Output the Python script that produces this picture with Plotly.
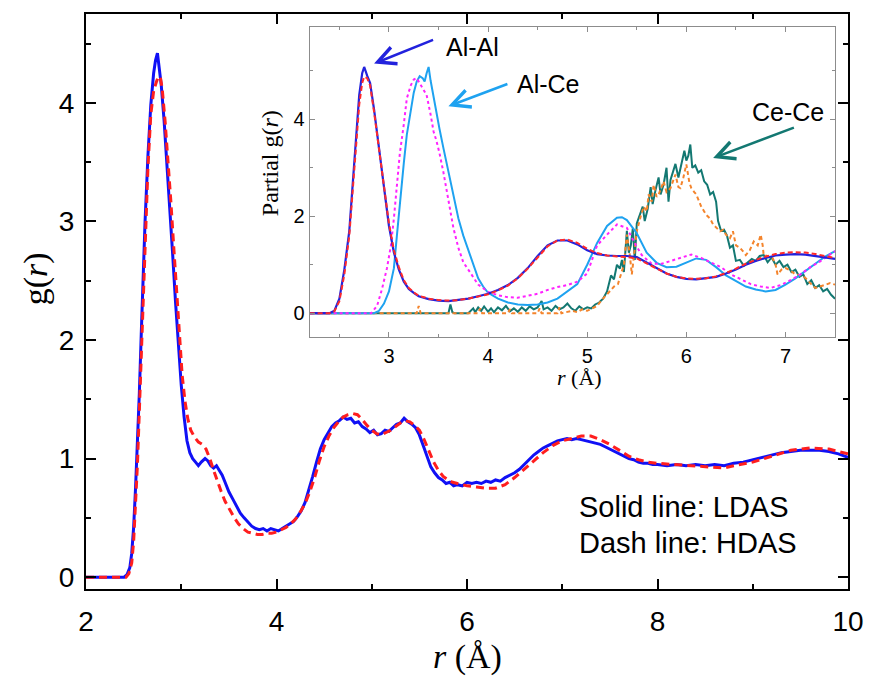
import plotly.graph_objects as go

# ---------------- main panel: total g(r) ----------------
r_ldas = [2.00, 2.40, 2.43, 2.46, 2.48, 2.50, 2.52, 2.54, 2.56, 2.58,
          2.60, 2.62, 2.65, 2.68, 2.71, 2.73, 2.75, 2.77, 2.79, 2.82,
          2.85, 2.88, 2.91, 2.94, 2.97, 3.00, 3.03, 3.06, 3.09, 3.12,
          3.15, 3.18, 3.21, 3.25, 3.28, 3.31, 3.34, 3.37, 3.40, 3.43,
          3.46, 3.50, 3.54, 3.58, 3.62, 3.66, 3.70, 3.74, 3.78, 3.82,
          3.86, 3.90, 3.94, 3.98, 4.02, 4.06, 4.10, 4.14, 4.18, 4.22,
          4.26, 4.30, 4.34, 4.38, 4.42, 4.46, 4.50, 4.54, 4.58, 4.62,
          4.66, 4.70, 4.74, 4.78, 4.82, 4.86, 4.90, 4.94, 4.98, 5.02,
          5.06, 5.10, 5.14, 5.18, 5.22, 5.26, 5.30, 5.34, 5.38, 5.42,
          5.46, 5.50, 5.54, 5.58, 5.62, 5.66, 5.70, 5.74, 5.78, 5.82,
          5.86, 5.90, 5.95, 6.00, 6.05, 6.10, 6.15, 6.20, 6.25, 6.30,
          6.35, 6.40, 6.45, 6.50, 6.55, 6.60, 6.65, 6.70, 6.75, 6.80,
          6.85, 6.90, 6.95, 7.00, 7.05, 7.10, 7.15, 7.20, 7.25, 7.30,
          7.35, 7.40, 7.45, 7.50, 7.55, 7.60, 7.65, 7.70, 7.75, 7.80,
          7.85, 7.90, 7.95, 8.00, 8.10, 8.20, 8.30, 8.40, 8.50, 8.60,
          8.70, 8.80, 8.90, 9.00, 9.10, 9.20, 9.30, 9.40, 9.50, 9.60,
          9.70, 9.80, 9.90, 10.00]
g_ldas = [0.00, 0.00, 0.02, 0.08, 0.20, 0.42, 0.75, 1.10, 1.55, 2.05,
          2.55, 3.00, 3.55, 3.98, 4.25, 4.36, 4.42, 4.30, 4.15, 3.85,
          3.50, 3.12, 2.72, 2.32, 1.95, 1.62, 1.35, 1.15, 1.05, 1.00,
          0.97, 0.94, 0.97, 1.00, 0.98, 0.94, 0.92, 0.94, 0.90, 0.86,
          0.80, 0.72, 0.66, 0.60, 0.54, 0.50, 0.46, 0.43, 0.41, 0.40,
          0.41, 0.39, 0.41, 0.40, 0.39, 0.41, 0.43, 0.45, 0.47, 0.51,
          0.56, 0.63, 0.73, 0.85, 0.97, 1.08, 1.16, 1.22, 1.27, 1.30,
          1.32, 1.35, 1.33, 1.34, 1.30, 1.31, 1.27, 1.25, 1.22, 1.24,
          1.20, 1.21, 1.24, 1.23, 1.26, 1.29, 1.30, 1.34, 1.31, 1.29,
          1.26, 1.20, 1.11, 1.01, 0.93, 0.88, 0.84, 0.82, 0.79, 0.80,
          0.77, 0.78, 0.77, 0.80, 0.79, 0.80, 0.79, 0.81, 0.80, 0.82,
          0.81, 0.84, 0.86, 0.88, 0.91, 0.95, 0.99, 1.03, 1.06, 1.09,
          1.11, 1.13, 1.15, 1.16, 1.17, 1.16, 1.17, 1.16, 1.15, 1.14,
          1.13, 1.12, 1.10, 1.08, 1.06, 1.04, 1.02, 1.00, 0.99, 0.97,
          0.96, 0.96, 0.95, 0.95, 0.94, 0.95, 0.94, 0.95, 0.94, 0.95,
          0.94, 0.96, 0.97, 0.99, 1.01, 1.03, 1.05, 1.06, 1.07, 1.07,
          1.07, 1.06, 1.04, 1.01]

r_hdas = [2.00, 2.42, 2.45, 2.48, 2.50, 2.52, 2.54, 2.56, 2.58, 2.60,
          2.62, 2.65, 2.68, 2.71, 2.74, 2.76, 2.78, 2.80, 2.83, 2.86,
          2.89, 2.92, 2.95, 2.98, 3.01, 3.04, 3.07, 3.10, 3.14, 3.18,
          3.22, 3.26, 3.30, 3.34, 3.38, 3.42, 3.46, 3.50, 3.55, 3.60,
          3.65, 3.70, 3.75, 3.80, 3.85, 3.90, 3.95, 4.00, 4.05, 4.10,
          4.15, 4.20, 4.25, 4.30, 4.35, 4.40, 4.45, 4.50, 4.55, 4.60,
          4.65, 4.70, 4.75, 4.80, 4.85, 4.90, 4.95, 5.00, 5.05, 5.10,
          5.15, 5.20, 5.25, 5.30, 5.35, 5.40, 5.45, 5.50, 5.55, 5.60,
          5.65, 5.70, 5.75, 5.80, 5.85, 5.90, 5.95, 6.00, 6.10, 6.20,
          6.30, 6.40, 6.50, 6.60, 6.70, 6.80, 6.90, 7.00, 7.10, 7.20,
          7.30, 7.40, 7.50, 7.60, 7.70, 7.80, 7.90, 8.00, 8.20, 8.40,
          8.60, 8.70, 8.80, 9.00, 9.20, 9.40, 9.60, 9.80, 10.00]
g_hdas = [0.00, 0.00, 0.03, 0.12, 0.30, 0.60, 0.95, 1.40, 1.90, 2.40,
          2.85, 3.45, 3.90, 4.10, 4.18, 4.22, 4.22, 4.12, 3.85, 3.55,
          3.18, 2.80, 2.40, 2.02, 1.70, 1.48, 1.33, 1.24, 1.18, 1.14,
          1.12, 1.08, 1.00, 0.90, 0.80, 0.72, 0.64, 0.58, 0.51, 0.45,
          0.41, 0.38, 0.37, 0.36, 0.36, 0.37, 0.37, 0.38, 0.40, 0.42,
          0.45, 0.49, 0.55, 0.62, 0.72, 0.84, 0.98, 1.10, 1.19, 1.26,
          1.31, 1.35, 1.37, 1.38, 1.37, 1.33, 1.28, 1.24, 1.21, 1.20,
          1.22, 1.24, 1.27, 1.30, 1.32, 1.31, 1.28, 1.24, 1.16, 1.06,
          0.97, 0.90, 0.85, 0.82, 0.80, 0.79, 0.78, 0.77, 0.76, 0.75,
          0.75, 0.78, 0.84, 0.91, 0.98, 1.05, 1.11, 1.15, 1.17, 1.19,
          1.19, 1.16, 1.12, 1.07, 1.02, 0.99, 0.97, 0.96, 0.95, 0.94,
          0.93, 0.92, 0.94, 0.97, 1.02, 1.07, 1.09, 1.08, 1.04]

# ---------------- inset: partial g(r) ----------------
r_alal = [2.20, 2.40, 2.45, 2.50, 2.55, 2.60, 2.65, 2.70, 2.73, 2.75,
          2.78, 2.81, 2.85, 2.90, 2.95, 3.00, 3.05, 3.10, 3.15, 3.20,
          3.25, 3.30, 3.40, 3.50, 3.60, 3.70, 3.80, 3.90, 4.00, 4.10,
          4.20, 4.30, 4.40, 4.50, 4.60, 4.70, 4.80, 4.90, 5.00, 5.10,
          5.20, 5.30, 5.40, 5.50, 5.60, 5.70, 5.80, 5.90, 6.00, 6.10,
          6.20, 6.30, 6.40, 6.50, 6.60, 6.70, 6.80, 6.90, 7.00, 7.10,
          7.20, 7.30, 7.40, 7.50]
g_alal_ldas = [0.00, 0.00, 0.05, 0.30, 0.90, 1.70, 3.10, 4.50, 4.95, 5.08,
               4.90, 4.75, 4.20, 3.40, 2.60, 1.80, 1.25, 0.90, 0.65, 0.50,
               0.42, 0.35, 0.29, 0.26, 0.25, 0.27, 0.30, 0.35, 0.40, 0.48,
               0.58, 0.73, 0.93, 1.18, 1.40, 1.50, 1.50, 1.42, 1.30, 1.22,
               1.19, 1.18, 1.18, 1.16, 1.05, 0.93, 0.82, 0.75, 0.71, 0.70,
               0.72, 0.75, 0.82, 0.90, 1.00, 1.08, 1.14, 1.19, 1.21, 1.22,
               1.21, 1.18, 1.15, 1.12]
g_alal_hdas = [0.00, 0.00, 0.04, 0.25, 0.80, 1.60, 2.95, 4.30, 4.75, 4.88,
               4.85, 4.70, 4.15, 3.40, 2.62, 1.85, 1.30, 0.95, 0.68, 0.52,
               0.43, 0.36, 0.30, 0.27, 0.26, 0.27, 0.30, 0.34, 0.39, 0.47,
               0.57, 0.72, 0.92, 1.15, 1.38, 1.50, 1.52, 1.45, 1.33, 1.24,
               1.19, 1.17, 1.16, 1.13, 1.03, 0.92, 0.82, 0.75, 0.72, 0.71,
               0.72, 0.76, 0.83, 0.92, 1.02, 1.10, 1.17, 1.22, 1.25, 1.26,
               1.25, 1.22, 1.18, 1.14]

r_alce_ldas = [2.20, 2.85, 2.90, 2.95, 3.00, 3.05, 3.08, 3.11, 3.15, 3.18,
               3.22, 3.25, 3.28, 3.31, 3.34, 3.36, 3.38, 3.40, 3.42, 3.45,
               3.48, 3.51, 3.55, 3.60, 3.65, 3.70, 3.75, 3.80, 3.85, 3.90,
               3.95, 4.00, 4.10, 4.20, 4.30, 4.40, 4.50, 4.60, 4.70, 4.80,
               4.90, 5.00, 5.10, 5.20, 5.30, 5.35, 5.40, 5.50, 5.60, 5.70,
               5.80, 5.90, 6.00, 6.10, 6.20, 6.30, 6.40, 6.50, 6.60, 6.70,
               6.80, 6.90, 7.00, 7.10, 7.20, 7.30, 7.40, 7.50]
g_alce_ldas = [0.00, 0.00, 0.05, 0.20, 0.45, 0.93, 1.60, 2.30, 3.10, 3.68,
               4.20, 4.55, 4.78, 4.89, 4.85, 4.78, 4.95, 5.08, 4.80, 4.45,
               4.16, 3.80, 3.40, 2.90, 2.40, 1.96, 1.60, 1.30, 1.00, 0.72,
               0.55, 0.42, 0.30, 0.22, 0.18, 0.17, 0.18, 0.22, 0.30, 0.45,
               0.60, 1.00, 1.45, 1.80, 1.97, 1.98, 1.92, 1.65, 1.25, 1.04,
               0.95, 0.96, 1.05, 1.13, 1.10, 0.95, 0.78, 0.66, 0.55, 0.49,
               0.45, 0.48, 0.59, 0.72, 0.87, 1.02, 1.17, 1.28]

r_alce_hdas = [2.20, 2.82, 2.88, 2.93, 2.98, 3.02, 3.05, 3.08, 3.11, 3.15,
               3.18, 3.22, 3.25, 3.28, 3.31, 3.35, 3.38, 3.42, 3.45, 3.48,
               3.51, 3.55, 3.58, 3.62, 3.65, 3.70, 3.75, 3.80, 3.85, 3.90,
               4.00, 4.10, 4.20, 4.30, 4.40, 4.50, 4.60, 4.70, 4.80, 4.90,
               5.00, 5.10, 5.20, 5.30, 5.40, 5.47, 5.55, 5.65, 5.75, 5.85,
               5.95, 6.05, 6.15, 6.25, 6.35, 6.45, 6.55, 6.65, 6.75, 6.85,
               6.95, 7.05, 7.15, 7.25, 7.35, 7.45, 7.50]
g_alce_hdas = [0.00, 0.00, 0.15, 0.50, 0.93, 1.40, 1.96, 2.60, 3.30, 3.90,
               4.43, 4.70, 4.82, 4.85, 4.75, 4.62, 4.50, 4.10, 3.75, 3.55,
               3.30, 2.90, 2.58, 2.15, 1.76, 1.35, 1.05, 0.90, 0.75, 0.59,
               0.44, 0.37, 0.33, 0.32, 0.36, 0.40, 0.48, 0.54, 0.58, 0.65,
               0.82, 1.40, 1.62, 1.83, 1.76, 1.48, 1.20, 1.02, 1.02, 1.08,
               1.14, 1.21, 1.14, 1.05, 0.95, 0.80, 0.70, 0.60, 0.55, 0.52,
               0.58, 0.68, 0.80, 0.95, 1.07, 1.20, 1.28]

r_cece_ldas = [2.20, 3.60, 3.62, 3.64, 3.66, 3.70, 3.80, 3.85, 3.87, 3.90,
               3.93, 3.96, 4.00, 4.03, 4.06, 4.10, 4.14, 4.18, 4.22, 4.26,
               4.30, 4.34, 4.38, 4.42, 4.46, 4.50, 4.54, 4.56, 4.60, 4.64,
               4.68, 4.72, 4.76, 4.80, 4.84, 4.88, 4.92, 4.96, 5.00, 5.04,
               5.08, 5.12, 5.16, 5.20, 5.24, 5.27, 5.30, 5.33, 5.35, 5.37,
               5.40, 5.42, 5.44, 5.46, 5.48, 5.50, 5.53, 5.56, 5.58, 5.61,
               5.64, 5.66, 5.69, 5.72, 5.74, 5.77, 5.80, 5.82, 5.84, 5.86,
               5.89, 5.92, 5.95, 5.98, 6.00, 6.02, 6.04, 6.06, 6.09, 6.12,
               6.15, 6.18, 6.21, 6.24, 6.27, 6.30, 6.32, 6.35, 6.38, 6.41,
               6.44, 6.47, 6.50, 6.54, 6.58, 6.62, 6.66, 6.70, 6.74, 6.78,
               6.82, 6.86, 6.90, 6.94, 6.98, 7.02, 7.06, 7.10, 7.14, 7.18,
               7.22, 7.26, 7.30, 7.34, 7.38, 7.42, 7.46, 7.50]
g_cece_ldas = [0.00, 0.00, 0.18, 0.02, 0.00, 0.00, 0.00, 0.10, 0.02, 0.12,
               0.05, 0.14, 0.03, 0.10, 0.02, 0.12, 0.06, 0.15, 0.04, 0.10,
               0.03, 0.12, 0.05, 0.14, 0.08, 0.12, 0.25, 0.08, 0.12, 0.05,
               0.15, 0.08, 0.12, 0.20, 0.10, 0.05, 0.14, 0.08, 0.12, 0.10,
               0.18, 0.22, 0.30, 0.45, 0.78, 0.70, 1.00, 0.92, 1.10, 0.85,
               1.70, 1.25, 1.40, 1.75, 1.10, 1.85, 2.05, 2.20, 1.90, 2.15,
               2.60, 2.25, 2.55, 2.80, 2.45, 2.65, 3.00, 2.30, 2.75, 2.90,
               3.08, 2.80, 3.10, 3.35, 3.15, 3.25, 3.48, 3.00, 3.05, 2.90,
               2.95, 2.72, 2.65, 2.45, 2.50, 2.30, 1.90, 1.70, 1.72, 1.60,
               1.35, 1.40, 1.08, 1.10, 0.98, 1.05, 1.12, 1.08, 1.18, 1.20,
               1.05, 1.15, 1.00, 1.08, 0.95, 1.00, 0.85, 0.90, 0.75, 0.80,
               0.60, 0.68, 0.52, 0.58, 0.45, 0.50, 0.38, 0.30]

r_cece_hdas = [2.20, 3.28, 3.30, 3.32, 3.34, 3.90, 3.92, 3.94, 4.20, 4.22,
               4.24, 4.50, 4.52, 4.54, 4.70, 4.72, 4.74, 4.85, 4.90, 4.95,
               5.00, 5.05, 5.10, 5.15, 5.20, 5.24, 5.27, 5.31, 5.34, 5.37,
               5.40, 5.43, 5.45, 5.48, 5.50, 5.54, 5.57, 5.60, 5.62, 5.65,
               5.67, 5.70, 5.72, 5.75, 5.77, 5.80, 5.84, 5.87, 5.89, 5.92,
               5.94, 5.97, 6.00, 6.03, 6.05, 6.08, 6.10, 6.13, 6.15, 6.18,
               6.20, 6.24, 6.27, 6.31, 6.34, 6.37, 6.40, 6.44, 6.47, 6.50,
               6.54, 6.57, 6.60, 6.64, 6.68, 6.72, 6.75, 6.77, 6.78, 6.82,
               6.87, 6.90, 6.92, 6.96, 7.00, 7.05, 7.10, 7.15, 7.20, 7.25,
               7.30, 7.35, 7.40, 7.45, 7.50]
g_cece_hdas = [0.00, 0.00, 0.15, 0.00, 0.00, 0.00, 0.10, 0.00, 0.00, 0.08,
               0.00, 0.00, 0.10, 0.00, 0.00, 0.12, 0.00, 0.05, 0.02, 0.08,
               0.05, 0.10, 0.15, 0.28, 0.38, 0.48, 0.55, 0.60, 0.80, 1.00,
               1.62, 1.20, 0.80, 1.40, 1.69, 2.00, 2.20, 2.10, 2.45, 2.30,
               2.65, 2.40, 2.45, 2.60, 2.72, 2.50, 2.58, 2.75, 2.86, 2.60,
               2.58, 2.80, 3.07, 2.70, 2.58, 2.50, 2.45, 2.30, 2.20, 2.10,
               2.03, 1.95, 1.83, 1.75, 1.69, 1.72, 1.62, 1.55, 1.69, 1.40,
               1.35, 1.28, 1.20, 1.30, 1.48, 1.40, 1.62, 1.40, 1.20, 1.18,
               1.14, 1.00, 0.80, 0.90, 0.93, 0.88, 0.80, 0.78, 0.73, 0.62,
               0.52, 0.55, 0.59, 0.62, 0.59]

main_xticks = [2, 4, 6, 8, 10]
main_yticks = [0, 1, 2, 3, 4]
inset_xticks = [3, 4, 5, 6, 7]
inset_yticks = [0, 2, 4]

SANS = "Liberation Sans, Arial, sans-serif"
SERIF = "Liberation Serif, Times New Roman, serif"

fig = go.Figure()

fig.add_trace(go.Scatter(x=r_ldas, y=g_ldas, mode="lines",
                         line=dict(color="#1010F5", width=3), xaxis="x", yaxis="y"))
fig.add_trace(go.Scatter(x=r_hdas, y=g_hdas, mode="lines",
                         line=dict(color="#FF1E1E", width=3, dash="8px,5px"), xaxis="x", yaxis="y"))

inset = [
    (r_cece_ldas, g_cece_ldas, "#137872", "solid", 2),
    (r_cece_hdas, g_cece_hdas, "#F4842C", "4px,3px", 2),
    (r_alce_ldas, g_alce_ldas, "#1EA2F0", "solid", 2),
    (r_alce_hdas, g_alce_hdas, "#FF22FF", "3px,3px", 2),
    (r_alal, g_alal_ldas, "#2222DD", "solid", 2.2),
    (r_alal, g_alal_hdas, "#FF2A2A", "5px,3px", 2),
]
for xs, ys, col, dash, w in inset:
    fig.add_trace(go.Scatter(x=xs, y=ys, mode="lines",
                             line=dict(color=col, width=w, dash=dash),
                             xaxis="x2", yaxis="y2"))

ann = []
ann.append(dict(xref="paper", yref="paper", x=0.5, y=-0.118, text="<i>r</i> (Å)",
                showarrow=False, font=dict(family=SERIF, size=34, color="black"),
                xanchor="center", yanchor="middle"))
ann.append(dict(xref="paper", yref="paper", x=-0.066, y=0.54, text="g(<i>r</i>)",
                showarrow=False, textangle=-90, font=dict(family=SERIF, size=34, color="black"),
                xanchor="center", yanchor="middle"))
ann.append(dict(xref="paper", yref="paper", x=0.648, y=0.368, text="<i>r</i> (Å)",
                showarrow=False, font=dict(family=SERIF, size=22, color="black"),
                xanchor="center", yanchor="middle"))
ann.append(dict(xref="paper", yref="paper", x=0.241, y=0.74, text="Partial g(<i>r</i>)",
                showarrow=False, textangle=-90, font=dict(family=SERIF, size=24, color="black"),
                xanchor="center", yanchor="middle"))
ann.append(dict(xref="x", yref="y", x=7.15, y=0.59, text="Solid line: LDAS", showarrow=False,
                xanchor="left", yanchor="middle", font=dict(family=SANS, size=29, color="black")))
ann.append(dict(xref="x", yref="y", x=7.15, y=0.29, text="Dash line: HDAS", showarrow=False,
                xanchor="left", yanchor="middle", font=dict(family=SANS, size=29, color="black")))
labels = [("Al-Al", 3.56, 5.50, 3.46, 5.65, 2.85, 5.15, "#2222DD"),
          ("Al-Ce", 4.27, 4.72, 4.21, 4.74, 3.60, 4.27, "#1EA2F0"),
          ("Ce-Ce", 6.64, 4.16, 7.10, 3.84, 6.27, 3.20, "#137872")]
for txt, tx, ty, ax, ay, hx, hy, col in labels:
    ann.append(dict(xref="x2", yref="y2", x=tx, y=ty, text=txt, showarrow=False,
                    xanchor="left", yanchor="middle", font=dict(family=SANS, size=25, color="black")))
    ann.append(dict(xref="x2", yref="y2", axref="x2", ayref="y2", x=hx, y=hy, ax=ax, ay=ay,
                    text="", showarrow=True, arrowhead=5, arrowsize=1.4, arrowwidth=2.5,
                    arrowcolor=col))

main_ax = dict(showgrid=False, zeroline=False, showline=True, linecolor="black", linewidth=2,
               mirror="ticks", ticks="inside", ticklen=10, tickwidth=2, tickcolor="black",
               tickfont=dict(family=SANS, size=28, color="black"))
inset_ax = dict(showgrid=False, zeroline=False, showline=True, linecolor="#8C8C8C", linewidth=1.2,
                mirror="ticks", ticks="inside", ticklen=5, tickwidth=1.2, tickcolor="#8C8C8C",
                tickfont=dict(family=SANS, size=20, color="black"))

fig.update_layout(
    width=876, height=676,
    margin=dict(l=86, r=20, t=13, b=87),
    paper_bgcolor="white", plot_bgcolor="white",
    showlegend=False,
    xaxis=dict(main_ax, range=[2, 10], tickvals=main_xticks, domain=[0, 1], anchor="y",
               ticklabelstandoff=6,
               minor=dict(ticks="inside", ticklen=5, tickwidth=2, dtick=1, tickcolor="black")),
    yaxis=dict(main_ax, range=[-0.1, 4.75], tickvals=main_yticks, domain=[0, 1], anchor="x",
               ticklabelstandoff=4,
               minor=dict(ticks="inside", ticklen=5, tickwidth=2, dtick=0.5, tickcolor="black")),
    xaxis2=dict(inset_ax, range=[2.2, 7.5], tickvals=inset_xticks, domain=[0.2935, 0.983], anchor="y2",
                minor=dict(ticks="inside", ticklen=3, tickwidth=1.2, dtick=0.5, tickcolor="#8C8C8C")),
    yaxis2=dict(inset_ax, range=[-0.5, 5.9], tickvals=inset_yticks, domain=[0.4375, 0.977], anchor="x2",
                minor=dict(ticks="inside", ticklen=3, tickwidth=1.2, dtick=1, tickcolor="#8C8C8C")),
    annotations=ann,
)

fig.write_html("out.html")
